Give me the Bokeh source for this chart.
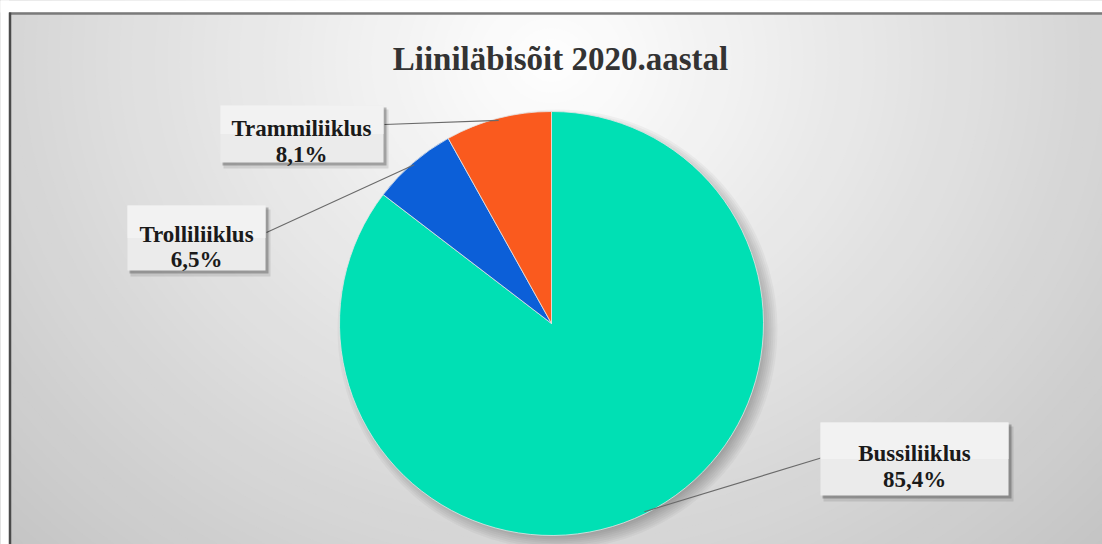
import math
from bokeh.plotting import figure
from bokeh.models import Range1d, ColumnDataSource
from bokeh.core.properties import value
from bokeh.embed import file_html
from bokeh.resources import INLINE

# ---- data ----
title = "Liiniläbisõit 2020.aastal"
categories = ["Bussiliiklus", "Trolliliiklus", "Trammiliiklus"]
shares = [85.4, 6.5, 8.1]
share_labels = ["85,4%", "6,5%", "8,1%"]
colors = ["#00E0B4", "#0C5FD8", "#FA5A1E"]

# ---- layout (page pixel coordinates; data y = 544 - page y) ----
W, H = 1102, 544
def Y(py):
    return 544 - py

p = figure(width=W, height=H, x_range=Range1d(0, W), y_range=Range1d(0, H),
           output_backend="svg", toolbar_location=None, x_axis_type=None, y_axis_type=None,
           min_border=0, outline_line_color=None, background_fill_color="white",
           border_fill_color="white")
p.grid.visible = False

# background radial gradient
gcx, gcy, rx, ry = 551, Y(60), 560, 500
N = 70
tmax = 1.5
for k in range(N, 0, -1):
    t = tmax * k / N
    g = int(max(186, min(255, round(255 - 42 * t))))
    col = "#%02x%02x%02x" % (g, g, g)
    p.ellipse(x=gcx, y=gcy, width=2 * rx * t, height=2 * ry * t, fill_color=col, line_color=None)

# white margin outside the frame border
p.quad(left=-10, right=1200, top=Y(-10), bottom=Y(12), fill_color="white", line_color=None)
p.quad(left=-10, right=8.5, top=Y(-10), bottom=Y(600), fill_color="white", line_color=None)
# frame border
p.line(x=[8.5, 1200], y=[Y(13), Y(13)], line_color="#7a7a7a", line_width=2.5)
p.line(x=[9.5, 9.5], y=[Y(12), Y(600)], line_color="#4a4a4a", line_width=2.5)

# title
p.text(x=[560], y=[Y(58)], text=[title], text_align="center", text_baseline="alphabetic",
       text_font=value("Liberation Serif"), text_font_style="bold", text_font_size="33px",
       text_color="#333333")

# pie
cx, cy, r = 551, Y(323), 212
# soft shadow
for k in range(9):
    p.circle(x=cx + 6, y=cy - 6, radius=r + 8 - 2 * k, fill_color="black", fill_alpha=0.035,
             line_color=None)

total = sum(shares)
starts, ends, mids = [], [], []
cum = 0.0
for s in shares:
    a0 = math.pi / 2 - 2 * math.pi * cum / total
    cum += s
    a1 = math.pi / 2 - 2 * math.pi * cum / total
    starts.append(a0)
    ends.append(a1)
    mids.append((a0 + a1) / 2)

src = ColumnDataSource(dict(cat=categories, start=starts, end=ends, color=colors))
p.wedge(x=cx, y=cy, radius=r, start_angle="start", end_angle="end", direction="clock",
        fill_color="color", line_color="#e6e6e6", line_width=0.8, source=src)

# data labels: box (left, right, top, bottom in page px), text center, baselines, leader start
label_layout = {
    "Bussiliiklus": dict(box=(820, 1008, 422, 495), tx=914, b1=453, b2=479, lead=(822, 457)),
    "Trolliliiklus": dict(box=(127, 265, 205, 270), tx=196, b1=234, b2=259, lead=(266, 232)),
    "Trammiliiklus": dict(box=(220, 383, 105, 162), tx=301, b1=128, b2=154, lead=(384, 124)),
}

for cat, lab, mid in zip(categories, share_labels, mids):
    L = label_layout[cat]
    ex = cx + r * 0.99 * math.cos(mid)
    ey = cy + r * 0.99 * math.sin(mid)
    p.line(x=[L["lead"][0], ex], y=[Y(L["lead"][1]), ey], line_color="#6a6a6a", line_width=1.1)
    l, rr, t, b = L["box"]
    # shadow
    p.quad(left=l + 3, right=rr + 5, top=Y(t + 4), bottom=Y(b + 6), fill_color="#000000",
           fill_alpha=0.10, line_color=None)
    p.quad(left=l + 2, right=rr + 3, top=Y(t + 2), bottom=Y(b + 3), fill_color="#000000",
           fill_alpha=0.25, line_color=None)
    p.quad(left=l, right=rr, top=Y(t), bottom=Y(b), fill_color="#ebebeb", line_color=None)
    p.quad(left=l, right=rr, top=Y(t), bottom=Y((t + b) / 2), fill_color="#f2f2f2",
           line_color=None)
    p.text(x=[L["tx"], L["tx"]], y=[Y(L["b1"]), Y(L["b2"])], text=[cat, lab],
           text_align="center", text_baseline="alphabetic",
           text_font=value("Liberation Serif"), text_font_style="bold", text_font_size="23px",
           text_color="#1a1a1a")

open("out.html", "w").write(file_html(p, INLINE))
